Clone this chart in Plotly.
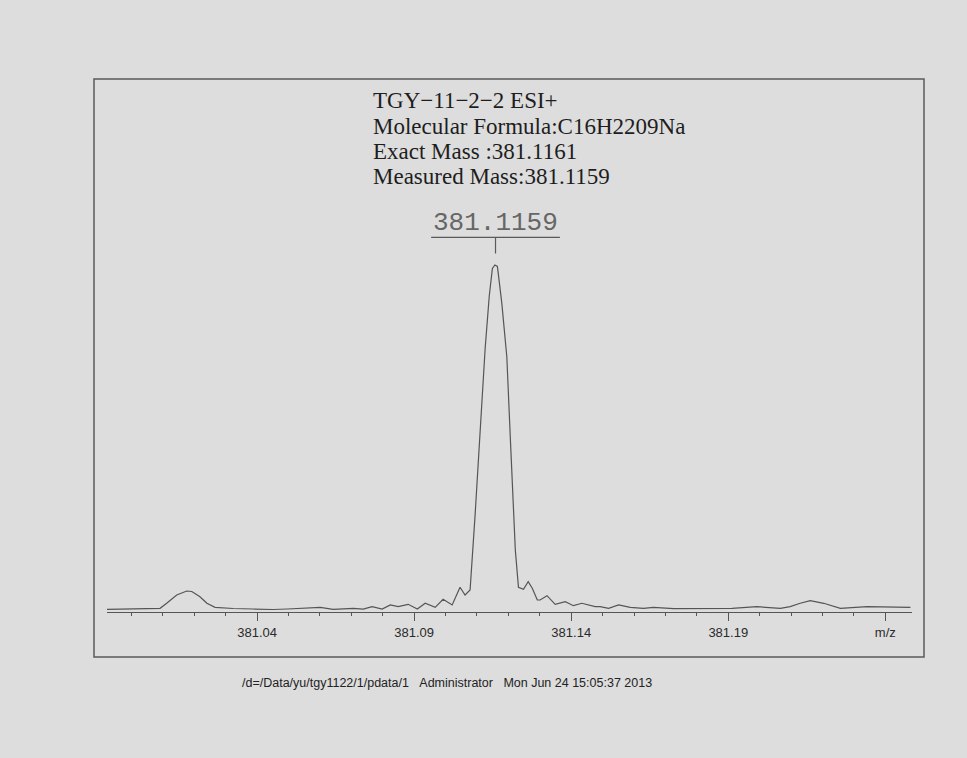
import plotly.graph_objects as go
import numpy as np

# m/z values and relative intensity (peak = 100)
mz = [380.9922, 381.0091, 381.0112, 381.0144, 381.0176, 381.0192, 381.0218, 381.0240,
      381.0266, 381.0324, 381.0387, 381.0451, 381.0496, 381.0578, 381.0601, 381.0642,
      381.0706, 381.0738, 381.0766, 381.0798, 381.0824, 381.0849, 381.0881, 381.0910,
      381.0935, 381.0967, 381.0992, 381.1021, 381.1046, 381.1062, 381.1078, 381.1094,
      381.1110, 381.1126, 381.1139, 381.1149, 381.1157, 381.1165, 381.1179, 381.1195, 381.1206,
      381.1222, 381.1232, 381.1248, 381.1263, 381.1276, 381.1292, 381.1301, 381.1323,
      381.1349, 381.1381, 381.1407, 381.1434, 381.1476, 381.1492, 381.1519, 381.1551,
      381.1588, 381.1630, 381.1662, 381.1726, 381.1800, 381.1864, 381.1912, 381.1991,
      381.2066, 381.2097, 381.2129, 381.2161, 381.2204, 381.2257, 381.2342, 381.2480]
intensity = [0.78, 1.07, 2.51, 4.90, 6.05, 5.91, 4.41, 2.51,
             1.35, 1.01, 0.86, 0.72, 0.86, 1.15, 1.35, 0.78,
             1.07, 0.86, 1.53, 0.86, 2.02, 1.53, 2.22, 0.86,
             2.51, 1.35, 3.66, 2.02, 7.12, 4.90, 6.34, 28.0,
             52.0, 76.0, 91.0, 99.0, 100.0, 99.6, 89.0, 73.5, 50.4,
             17.9, 7.12, 6.54, 8.73, 6.83, 3.46, 3.46, 4.70,
             2.22, 2.97, 1.82, 2.51, 1.53, 1.53, 1.07, 2.02,
             1.35, 1.07, 1.35, 0.95, 0.95, 1.15, 1.07, 1.53,
             1.07, 1.53, 2.51, 3.26, 2.51, 1.07, 1.53, 1.35]

major_ticks = [381.04, 381.09, 381.14, 381.19, 381.24]
major_labels = ["381.04", "381.09", "381.14", "381.19", "m/z"]
minor_ticks = list(np.round(np.arange(381.00, 381.25, 0.01), 2))

peak_label = 381.1159
header_lines = ["TGY\u221211\u22122\u22122 ESI+",
                "Molecular Formula:C16H2209Na",
                "Exact Mass :381.1161",
                "Measured Mass:381.1159"]
footer = "/d=/Data/yu/tgy1122/1/pdata/1\u00a0\u00a0\u00a0Administrator\u00a0\u00a0\u00a0Mon Jun 24 15:05:37 2013"

W, H = 967, 758
L, R, T, B = 107, 55, 79, 146
pw, ph = W - L - R, H - T - B

def px_x(p):
    return (p - L) / pw

def px_y(p):
    return (H - B - p) / ph

bg = "#dddddd"
fig = go.Figure()
fig.add_trace(go.Scatter(x=mz, y=intensity, mode="lines",
                         line=dict(color="#555555", width=1.2),
                         hoverinfo="skip", showlegend=False))

annotations = []
ys = [100.5, 126, 151.5, 176.7]
for t, yy in zip(header_lines, ys):
    annotations.append(dict(text=t, xref="paper", yref="paper", x=px_x(371), y=px_y(yy),
                            xanchor="left", yanchor="middle", showarrow=False,
                            font=dict(family="Liberation Serif", size=23, color="#1e1e1e")))
annotations.append(dict(text=f"{peak_label:.4f}", xref="x", yref="paper", x=peak_label, y=px_y(223),
                        xanchor="center", yanchor="middle", showarrow=False,
                        font=dict(family="Liberation Mono", size=26, color="#666666")))
annotations.append(dict(text=footer, xref="paper", yref="paper", x=px_x(240), y=px_y(683),
                        xanchor="left", yanchor="middle", showarrow=False,
                        font=dict(family="Liberation Sans", size=12.5, color="#222222")))

shapes = [
    dict(type="rect", xref="paper", yref="paper", x0=px_x(94), x1=px_x(924),
         y0=px_y(657), y1=px_y(79), line=dict(color="#5a5a5a", width=1.5)),
    dict(type="line", xref="x", yref="paper", x0=peak_label - 0.0205, x1=peak_label + 0.0205,
         y0=px_y(237.3), y1=px_y(237.3), line=dict(color="#5a5a5a", width=1.2)),
    dict(type="line", xref="x", yref="paper", x0=peak_label, x1=peak_label,
         y0=px_y(237.3), y1=px_y(253.5), line=dict(color="#5a5a5a", width=1.2)),
]

fig.update_layout(
    width=W, height=H,
    margin=dict(l=L, r=R, t=T, b=B),
    paper_bgcolor=bg, plot_bgcolor=bg,
    annotations=annotations, shapes=shapes,
    xaxis=dict(range=[380.9922, 381.2485], showgrid=False, zeroline=False,
               showline=True, linecolor="#555555", linewidth=1.2,
               tickmode="array", tickvals=major_ticks, ticktext=major_labels,
               ticks="outside", ticklen=8, tickcolor="#555555", tickwidth=1,
               tickfont=dict(family="Liberation Sans", size=13, color="#2a2a2a"),
               minor=dict(tickmode="array", tickvals=minor_ticks, ticks="outside",
                          ticklen=3, tickcolor="#555555", showgrid=False)),
    yaxis=dict(range=[0, ph / 3.47], visible=False, showgrid=False, zeroline=False),
)

fig.write_html("out.html")
